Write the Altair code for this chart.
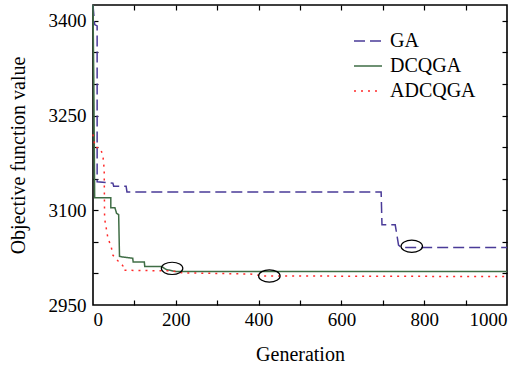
import altair as alt
import pandas as pd

# Series definitions
series_names = ["GA", "DCQGA", "ADCQGA"]
series_colors = ["#4a3b98", "#3f6d45", "#ff2a2a"]
series_dashes = [[11, 5], [1, 0], [2, 5]]

# Best objective value per generation (step-wise convergence traces)
ga_gen = [0, 4, 10, 10, 48, 50, 80, 82, 696, 698, 730, 738, 745, 1000]
ga_val = [3425, 3394, 3392, 3145, 3143, 3138, 3138, 3129, 3129, 3077, 3077, 3045, 3041, 3041]

dcqga_gen = [0, 2, 4, 43, 43, 53, 57, 62, 64, 72, 96, 97, 124, 125, 165, 178, 200, 1000]
dcqga_val = [3425, 3300, 3120, 3120, 3104, 3104, 3095, 3093, 3027, 3026, 3024, 3018, 3018, 3011, 3011, 3006, 3003, 3003]

adcqga_gen = [0, 5, 18, 24, 27, 28, 36, 44, 48, 60, 68, 72, 73, 190, 215, 380, 410, 1000]
adcqga_val = [3220, 3200, 3198, 3186, 3165, 3087, 3056, 3042, 3029, 3020, 3016, 3012, 3005, 3004, 3001, 2999, 2996, 2995]

# Highlighted convergence points
mark_gen = [191, 426, 770]
mark_val = [3008, 2996, 3043]

# Axis ticks
x_labels = [0, 200, 400, 600, 800, 1000]
x_minor = list(range(100, 1000, 100))
y_labels = [2950, 3100, 3250, 3400]
y_minor = list(range(3000, 3401, 50))

rows = []
for name, gens, vals in [("GA", ga_gen, ga_val),
                         ("DCQGA", dcqga_gen, dcqga_val),
                         ("ADCQGA", adcqga_gen, adcqga_val)]:
    for i, (g, v) in enumerate(zip(gens, vals)):
        rows.append({"series": name, "gen": g, "value": v, "idx": i})
df = pd.DataFrame(rows)
marks_df = pd.DataFrame({"gen": mark_gen, "value": mark_val})

W, H = 414, 300
FONT = "Liberation Serif, Times New Roman, Times, serif"

x_scale = alt.Scale(domain=[0, 1000], nice=False, zero=False)
y_scale = alt.Scale(domain=[2950, 3425], nice=False, zero=False)

legend_cfg = dict(orient="none", legendX=260, legendY=21,
                  symbolType="stroke", symbolSize=784,
                  symbolStrokeWidth=1.5, labelOffset=7,
                  rowPadding=0, padding=0,
                  labelFont=FONT, labelFontSize=20, labelColor="black")

lines = alt.Chart(df).mark_line(strokeWidth=1.5, strokeCap="butt").encode(
    x=alt.X("gen:Q", scale=x_scale,
            axis=alt.Axis(orient="bottom", values=x_labels, format="d", ticks=False,
                          domain=False, grid=False, labelPadding=5,
                          labelFont=FONT, titleFont=FONT,
                          title="Generation", titlePadding=15)),
    y=alt.Y("value:Q", scale=y_scale,
            axis=alt.Axis(orient="left", values=y_labels, format="d", ticks=False,
                          domain=False, grid=False, labelPadding=7,
                          labelFont=FONT, titleFont=FONT,
                          title="Objective function value", titlePadding=20)),
    color=alt.Color("series:N", title=None,
                    scale=alt.Scale(domain=series_names, range=series_colors),
                    legend=alt.Legend(**legend_cfg)),
    strokeDash=alt.StrokeDash("series:N", title=None,
                              scale=alt.Scale(domain=series_names, range=series_dashes),
                              legend=alt.Legend(**legend_cfg)),
    order="idx:Q",
)

# Inward-pointing ticks on all four sides of the frame
tick_base = alt.Chart(df).mark_line(opacity=0)
ticks_bl = tick_base.encode(
    x=alt.X("gen:Q", scale=x_scale,
            axis=alt.Axis(orient="top", offset=-H, values=x_minor, labels=False,
                          domain=False, grid=False, tickSize=5, title=None)),
    y=alt.Y("value:Q", scale=y_scale,
            axis=alt.Axis(orient="right", offset=-W, values=y_minor, labels=False,
                          domain=False, grid=False, tickSize=5, title=None)),
    detail="series:N", order="idx:Q",
)
ticks_tr = tick_base.encode(
    x=alt.X("gen:Q", scale=x_scale,
            axis=alt.Axis(orient="bottom", offset=-H, values=x_minor, labels=False,
                          domain=False, grid=False, tickSize=5, title=None)),
    y=alt.Y("value:Q", scale=y_scale,
            axis=alt.Axis(orient="left", offset=-W, values=y_minor, labels=False,
                          domain=False, grid=False, tickSize=5, title=None)),
    detail="series:N", order="idx:Q",
)

ellipse_path = "M -1 0 A 1 0.57 0 1 1 1 0 A 1 0.57 0 1 1 -1 0 Z"
ellipses = alt.Chart(marks_df).mark_point(
    shape=ellipse_path, size=462, filled=False, stroke="black", strokeWidth=1.2, opacity=1
).encode(
    x=alt.X("gen:Q", scale=x_scale, axis=None),
    y=alt.Y("value:Q", scale=y_scale, axis=None),
)

chart = alt.layer(lines, ticks_bl, ticks_tr, ellipses).resolve_axis(
    x="independent", y="independent"
).properties(
    width=W, height=H,
    padding={"left": 93, "top": 5, "right": 21, "bottom": 62},
    autosize=alt.AutoSizeParams(type="none"),
    background="white",
).configure_view(
    stroke="black", strokeWidth=1.6
).configure_axis(
    labelFont=FONT, labelFontSize=19, labelColor="black",
    titleFont=FONT, titleFontSize=20, titleColor="black", titleFontWeight="normal",
    tickColor="black", tickWidth=1.2,
).configure_legend(
    labelFont=FONT, labelFontSize=20, labelColor="black",
)

chart.save("out.html", embed_options={"renderer": "svg", "actions": False})
